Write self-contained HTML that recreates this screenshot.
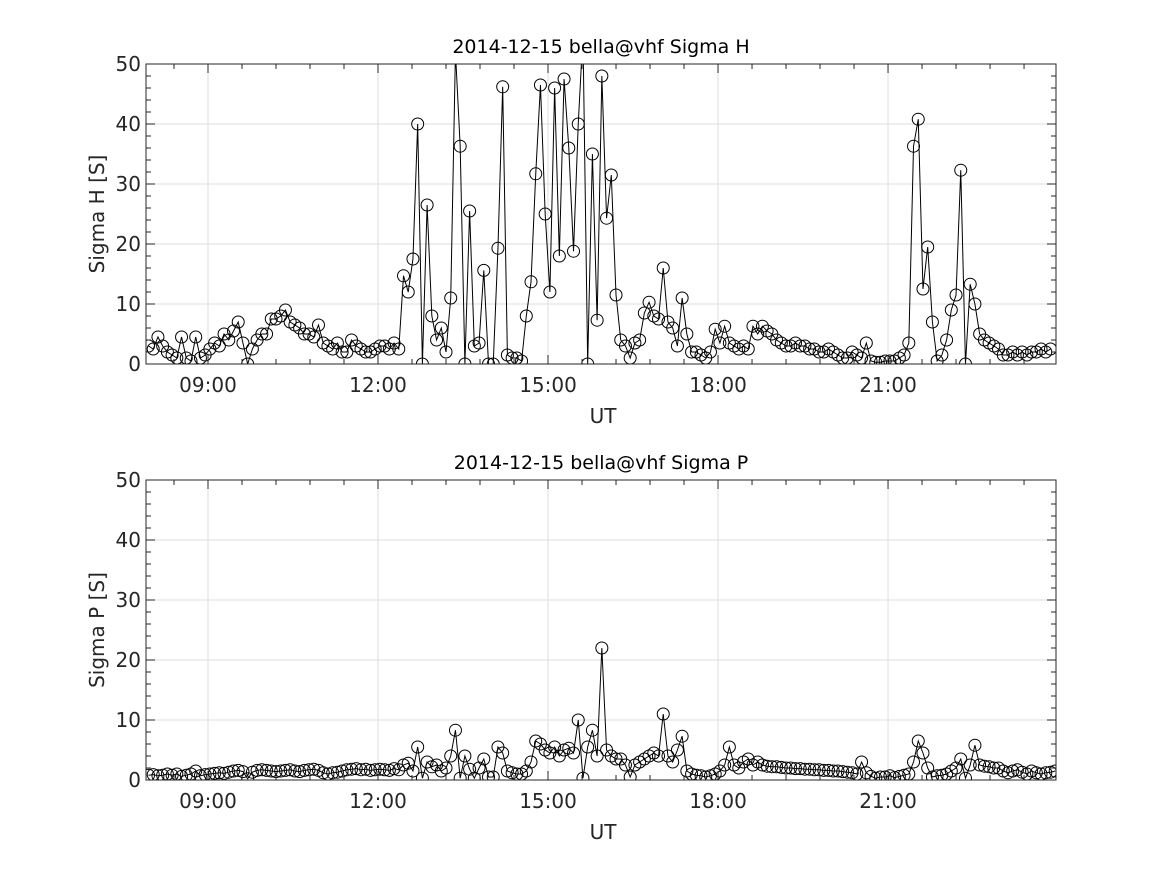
<!DOCTYPE html>
<html><head><meta charset="utf-8">
<style>
html,body{margin:0;padding:0;background:#fff;}
svg{display:block;font-family:"DejaVu Sans","Liberation Sans",sans-serif;}
</style></head>
<body>
<svg id="chart" width="1167" height="875" viewBox="0 0 1167 875" xmlns="http://www.w3.org/2000/svg">
<rect width="1167" height="875" fill="#fff"/>
<defs>
<clipPath id="clipTop"><rect x="146" y="64" width="910" height="300"/></clipPath>
<clipPath id="clipBot"><rect x="146" y="480" width="910" height="300"/></clipPath>
</defs>
</svg>
<script>
const startHour = 7.95;
const stepHour = 1/12;
const xTickLabels = ["09:00","12:00","15:00","18:00","21:00"];
const xTickHours = [9,12,15,18,21];
const yTickLabels = ["0","10","20","30","40","50"];
const yTickValues = [0,10,20,30,40,50];
const sigmaH = [3,2.5,4.5,3,2,1.5,1,4.5,1,0.5,4.5,1,1.5,
2.5,3.5,3,5,4,5.5,7,3.5,0,2.5,4,5,
5,7.5,7.5,8,9,7,6.5,6,5,5,4.5,6.5,
3.5,3,2.5,3.5,2,2,4,3,2.5,2,2,2.5,
3,3,2.5,3.5,2.5,14.7,12,17.5,40,0,26.5,8,
4,6,2,11,52,36.3,0,25.5,3,3.5,15.6,0,
0,19.3,46.2,1.5,1,1,0.5,8,13.7,31.7,46.5,25,
12,46,18,47.5,36,18.8,40,55,0,35,7.3,48,
24.3,31.5,11.5,4,3,1,3.5,4,8.5,10.3,8,7.5,
16,7,6,3,11,5,2,2,1.5,1,2,5.8,
3.5,6.3,3.5,3,2.5,3,2.5,6.3,5,6.3,5.5,5,
4,3.5,3,3,3.5,3,3,2.5,2.5,2,2,2.5,
2,1.5,1,1,2,1.5,1,3.5,0.5,0.3,0.3,0.5,
0.5,0.5,1,1.5,3.5,36.3,40.8,12.5,19.5,7,0.5,1.5,
4,9,11.5,32.3,0,13.3,10,5,4,3.5,3,2.5,
1.5,1.5,2,1.5,2,1.5,2,2,2.5,2,2.5];
const sigmaP = [0.8,0.9,0.7,0.8,1,0.8,1,0.6,0.8,1,1.5,0.7,0.9,
1,1.1,1.2,1.1,1.3,1.5,1.6,1.4,0.2,1.3,1.6,1.7,
1.6,1.5,1.4,1.5,1.6,1.7,1.5,1.4,1.6,1.7,1.8,1.6,
1.2,1,1.2,1.3,1.5,1.7,1.8,1.9,1.7,1.8,1.6,1.7,
1.8,1.7,1.6,1.9,1.7,2.5,2.8,1.5,5.5,0.3,3,2.2,
2.5,1.5,2,4,8.3,0.3,4,1.8,0.3,2,3.5,0.5,
0.5,5.5,4.5,1.5,1.2,1,1,1.5,3,6.5,6,5,
4.5,5.5,4,5,5.3,4.5,10,0.3,5.5,8.3,4,22,
5,4,3.5,3.5,2.5,0.5,2.5,3,3.5,4,4.5,4,
11,4,3,5,7.3,1.5,1,0.8,0.7,0.5,0.7,1,
1.5,2.5,5.5,2.5,2,3,3.5,2.5,3,2.5,2.3,2.2,
2.2,2.1,2,2,1.9,1.9,1.8,1.8,1.7,1.7,1.6,1.6,
1.5,1.5,1.4,1.3,1.2,1,3,1.2,0.6,0.3,0.5,0.5,
0.7,0.4,0.6,0.8,1,3,6.5,4.5,2,0.5,0.7,0.8,
1,1.5,2,3.5,0.3,2.5,5.8,2.5,2.3,2.2,2,2,
1.5,1.2,1.5,1.7,1.3,1,1.5,1.2,1,1.2,1.3,1.5];

const NS = "http://www.w3.org/2000/svg";
const svg = document.getElementById('chart');
const X0 = 146, X1 = 1056;
const tMin = 7.906, tMax = 23.964;
function xScale(t){ return X0 + (t - tMin) / (tMax - tMin) * (X1 - X0); }
function mk(tag, attrs, parent){
  const e = document.createElementNS(NS, tag);
  for (const k in attrs) e.setAttribute(k, attrs[k]);
  (parent || svg).appendChild(e);
  return e;
}
function drawPanel(top, title, ylabel, values, clipId, key){
  const bottom = top + 300;
  const yScale = v => bottom - v / 50 * 300;
  const g = mk('g', {});
  
  
  xTickHours.forEach(h => {
    const gl = mk('line', {x1:xScale(h), x2:xScale(h), y1:top, y2:bottom, stroke:'#dedede', 'stroke-width':1}, g);
    
    
  });
  yTickValues.forEach(v => {
    const gl = mk('line', {x1:X0, x2:X1, y1:yScale(v), y2:yScale(v), stroke:'#dedede', 'stroke-width':1}, g);
    
    
  });
  const sg = mk('g', {'clip-path':'url(#' + clipId + ')'}, g);
  
  
  let d = '';
  values.forEach((v, i) => {
    const t = startHour + i * stepHour;
    d += (i ? 'L' : 'M') + xScale(t).toFixed(2) + ' ' + yScale(v).toFixed(2);
  });
  const line = mk('path', {d:d, fill:'none', stroke:'#000', 'stroke-width':1}, sg);
  
  
  values.forEach((v, i) => {
    const t = startHour + i * stepHour;
    const c = mk('circle', {cx:xScale(t), cy:yScale(v), r:6, fill:'none', stroke:'#000', 'stroke-width':1}, sg);
    
    
  });
  const box = mk('rect', {x:X0, y:top, width:X1-X0, height:300, fill:'none', stroke:'#262626', 'stroke-width':1}, g);
  
  
  for (let h = 9 - 0.6; h <= tMax; h += 0.6) {
    if (h < tMin) continue;
    const major = Math.abs((h - 9) / 3 - Math.round((h - 9) / 3)) < 1e-6;
    const len = major ? 9 : 5;
    const x = xScale(h);
    mk('line', {x1:x, x2:x, y1:bottom, y2:bottom-len, stroke:'#262626'}, g);
    mk('line', {x1:x, x2:x, y1:top, y2:top+len, stroke:'#262626'}, g);
  }
  xTickLabels.forEach((lab, k) => {
    const tx = mk('text', {x:xScale(xTickHours[k]), y:bottom+28, 'text-anchor':'middle', 'font-size':20, fill:'#262626'}, g);
    tx.textContent = lab;
    
    
  });
  for (let v = 0; v <= 50; v += 2) {
    const major = v % 10 === 0;
    const len = major ? 9 : 5;
    const y = yScale(v);
    mk('line', {x1:X0, x2:X0+len, y1:y, y2:y, stroke:'#262626'}, g);
    mk('line', {x1:X1, x2:X1-len, y1:y, y2:y, stroke:'#262626'}, g);
  }
  yTickLabels.forEach((lab, k) => {
    const tx = mk('text', {x:X0-5, y:yScale(yTickValues[k])+7, 'text-anchor':'end', 'font-size':20, fill:'#262626'}, g);
    tx.textContent = lab;
    
    
  });
  const tt = mk('text', {x:601, y:top-11, 'text-anchor':'middle', 'font-size':19, fill:'#000'}, g);
  tt.textContent = title;
  
  
  const xl = mk('text', {x:603, y:bottom+59, 'text-anchor':'middle', 'font-size':20, fill:'#262626'}, g);
  xl.textContent = 'UT';
  
  
  const yl = mk('text', {x:104, y:top+150, 'text-anchor':'middle', 'font-size':20, fill:'#262626', transform:'rotate(-90 104 ' + (top+150) + ')'}, g);
  yl.textContent = ylabel;
  
  
}
drawPanel(64, '2014-12-15  bella@vhf Sigma H', 'Sigma H [S]', sigmaH, 'clipTop', 'sigma-h');
drawPanel(480, '2014-12-15  bella@vhf Sigma P', 'Sigma P [S]', sigmaP, 'clipBot', 'sigma-p');
</script>
</body></html>
